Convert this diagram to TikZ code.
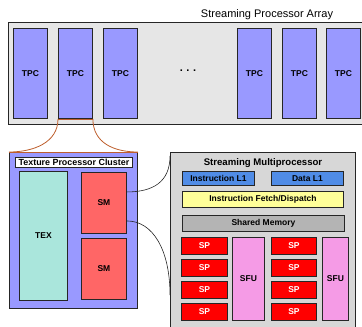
\documentclass[tikz,border=0pt]{standalone}
\usepackage{fontspec}
\setmainfont{Liberation Sans}
\definecolor{arraygray}{RGB}{230,230,230}
\definecolor{tpcblue}{RGB}{153,153,255}
\definecolor{texgreen}{RGB}{170,230,220}
\definecolor{smred}{RGB}{255,102,102}
\definecolor{smdgray}{RGB}{215,215,215}
\definecolor{lonebl}{RGB}{80,140,230}
\definecolor{fetchyel}{RGB}{255,255,153}
\definecolor{shmgray}{RGB}{180,180,180}
\definecolor{sfupink}{RGB}{245,155,230}
\definecolor{orng}{RGB}{190,95,45}
\begin{document}
\begin{tikzpicture}[x=1pt,y=-1pt,
  bx/.style={draw=black!85, line width=0.9pt, anchor=north west, inner sep=0pt,
    font=\bfseries\fontsize{8.5}{10}\selectfont},
  tpcbox/.style={bx, fill=tpcblue, minimum width=34pt, minimum height=90pt},
  spbox/.style={bx, fill=red, text=white, minimum width=46pt, minimum height=17pt},
  sfubox/.style={bx, fill=sfupink, minimum height=83pt},
  orline/.style={draw=orng, line width=0.8pt},
  link/.style={draw=black!85, line width=0.6pt}
]
\useasboundingbox (0,0) rectangle (362,327);
\clip (0,0) rectangle (362,327);
% Streaming processor array
\node[bx, fill=arraygray, minimum width=380pt, minimum height=102pt] (arr) at (8,22) {};
\node[font=\fontsize{11}{13}\selectfont, inner sep=0pt] (arrlbl) at (267,15) {Streaming Processor Array};
\node[tpcbox] (tpc1) at (13,28) {TPC};
\node[tpcbox] (tpc2) at (58,28) {TPC};
\node[tpcbox] (tpc3) at (103,28) {TPC};
\node[font=\bfseries\fontsize{11}{12}\selectfont, inner sep=0pt] (dots) at (188,71) {.\,\,.\,\,.};
\node[tpcbox] (tpc4) at (237,28) {TPC};
\node[tpcbox] (tpc5) at (282,28) {TPC};
\node[tpcbox] (tpc6) at (326,28) {TPC};
% Texture processor cluster
\node[bx, fill=tpcblue, minimum width=128pt, minimum height=156pt] (cl) at (9,152) {};
\node[bx, fill=white, minimum width=117pt, minimum height=10pt, font=\bfseries\fontsize{8.9}{10}\selectfont] (cltitle) at (15,157) {Texture Processor Cluster};
\node[bx, fill=texgreen, minimum width=48pt, minimum height=129pt] (tex) at (19,171) {TEX};
\node[bx, fill=smred, minimum width=45pt, minimum height=61pt] (sm1) at (81,172) {SM};
\node[bx, fill=smred, minimum width=45pt, minimum height=61pt] (sm2) at (81,238) {SM};
% zoom connectors
\draw[orline] (tpc2.south west) -- (tpc2.south east);
\draw[orline] (cl.north west) -- (cl.north east);
\draw[orline] (tpc2.south west) .. controls +(0,24) and +(24,0) .. (cl.north west);
\draw[orline] (tpc2.south east) .. controls +(0,24) and +(-24,0) .. (cl.north east);
% Streaming multiprocessor
\node[bx, fill=smdgray, minimum width=185pt, minimum height=190pt] (smd) at (170,152) {};
\node[font=\bfseries\fontsize{9.6}{11}\selectfont, inner sep=0pt] (smdtitle) at (263,163) {Streaming Multiprocessor};
\node[bx, fill=lonebl, minimum width=72pt, minimum height=14pt] (il1) at (182,171) {Instruction L1};
\node[bx, fill=lonebl, minimum width=72pt, minimum height=14pt] (dl1) at (271,171) {Data L1};
\node[bx, fill=fetchyel, minimum width=161pt, minimum height=16pt] (ifd) at (182,191) {Instruction Fetch/Dispatch};
\node[bx, fill=shmgray, minimum width=162pt, minimum height=16pt] (shm) at (182,215) {Shared Memory};
\node[spbox] (spa1) at (181,237) {SP};
\node[spbox] (spa2) at (181,259) {SP};
\node[spbox] (spa3) at (181,281) {SP};
\node[spbox] (spa4) at (181,303) {SP};
\node[sfubox, minimum width=32pt] (sfu1) at (232,237) {SFU};
\node[spbox, minimum width=45pt] (spb1) at (271,237) {SP};
\node[spbox, minimum width=45pt] (spb2) at (271,259) {SP};
\node[spbox, minimum width=45pt] (spb3) at (271,281) {SP};
\node[spbox, minimum width=45pt] (spb4) at (271,303) {SP};
\node[sfubox, minimum width=26pt] (sfu2) at (322,237) {SFU};
% SM to detail connectors
\draw[link] ([yshift=11pt]sm1.east) .. controls +(26,0) and +(0,26) .. ([yshift=-4pt]smd.north west);
\draw[link] ([yshift=-18pt]sm1.east) .. controls +(26,0) and +(0,-45) .. ([yshift=-143pt]smd.north west);
\end{tikzpicture}
\end{document}
